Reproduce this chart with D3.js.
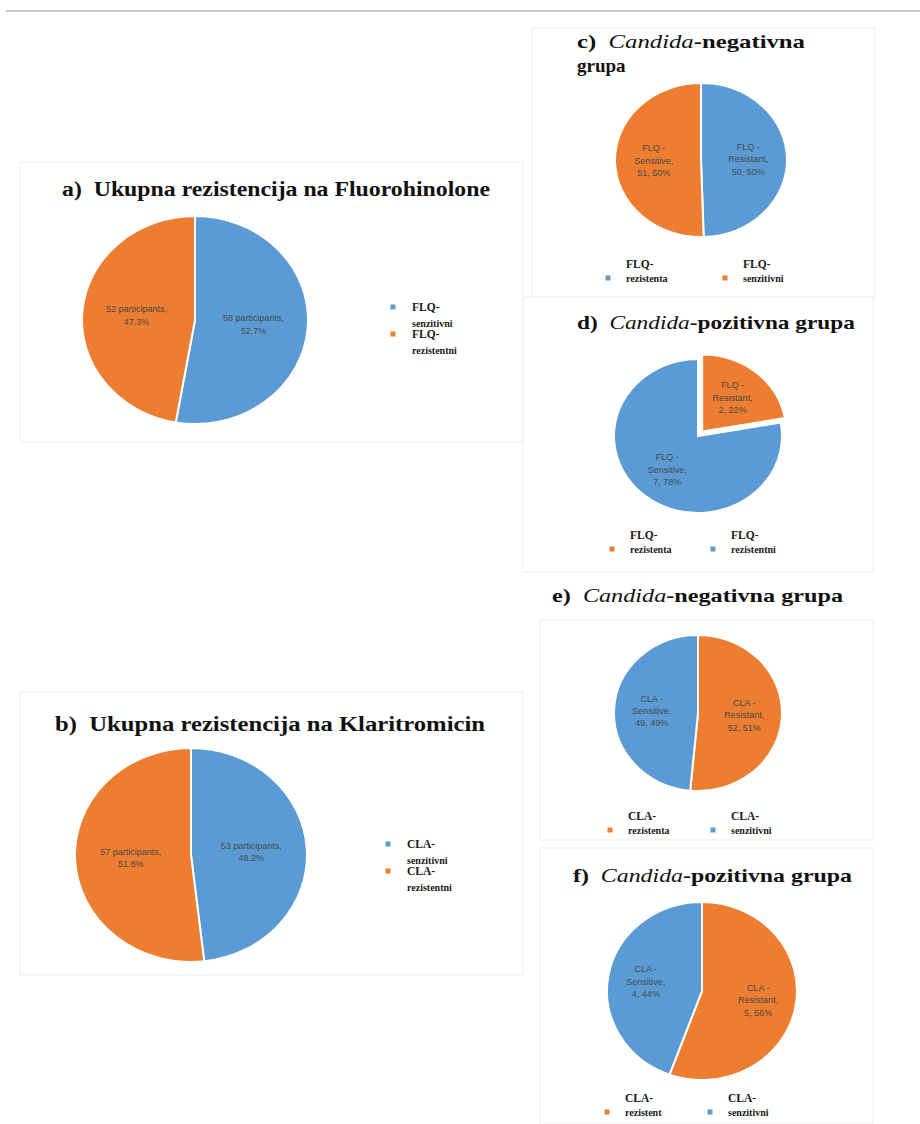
<!DOCTYPE html>
<html>
<head>
<meta charset="utf-8">
<script src="https://cdn.jsdelivr.net/npm/d3@7/dist/d3.min.js"></script>
<style>
  html, body { margin: 0; padding: 0; background: #ffffff; }
  svg { display: block; }
  text.title { white-space: pre; }
</style>
</head>
<body>
<svg id="chart" width="920" height="1124"></svg>
<script>
// ---- data ----
const totalFlqNames   = ["senzitivni", "rezistentni"];
const totalFlqValues  = [58, 52];
const totalClaNames   = ["senzitivni", "rezistentni"];
const totalClaValues  = [53, 57];

const flqNegNames  = ["FLQ - Resistant,", "FLQ - Sensitive,"];
const flqNegValues = [50, 51];
const flqPosNames  = ["FLQ - Resistant,", "FLQ - Sensitive,"];
const flqPosValues = [2, 7];
const claNegNames  = ["CLA - Resistant,", "CLA - Sensitive,"];
const claNegValues = [52, 49];
const claPosNames  = ["CLA - Resistant,", "CLA - Sensitive,"];
const claPosValues = [5, 4];

const legendA = [["FLQ-", "senzitivni"], ["FLQ-", "rezistentni"]];
const legendB = [["CLA-", "senzitivni"], ["CLA-", "rezistentni"]];
const legendC = [["FLQ-", "rezistenta"], ["FLQ-", "senzitivni"]];
const legendD = [["FLQ-", "rezistenta"], ["FLQ-", "rezistentni"]];
const legendE = [["CLA-", "rezistenta"], ["CLA-", "senzitivni"]];
const legendF = [["CLA-", "rezistent"], ["CLA-", "senzitivni"]];

const titleA = [["a)  Ukupna rezistencija na Fluorohinolone"]];
const titleB = [["b)  Ukupna rezistencija na Klaritromicin"]];
const titleC = [["c)  ", "Candida", "-negativna"], ["grupa"]];
const titleD = [["d)  ", "Candida", "-pozitivna grupa"]];
const titleE = [["e)  ", "Candida", "-negativna grupa"]];
const titleF = [["f)  ", "Candida", "-pozitivna grupa"]];

// ---- styling ----
const BLUE = "#5b9bd5";
const ORANGE = "#ed7d31";
const pctWhole = d3.format(".1%");
const pctInt = d3.format(".0%");

const svg = d3.select("#chart");

// thin page rule at the top
svg.append("line").attr("x1", 6).attr("x2", 920).attr("y1", 11).attr("y2", 11)
  .attr("stroke", "#c9c9c9").attr("stroke-width", 2);

// faint chart-area frames
const frames = [
  [20, 162, 523, 442],
  [20, 692, 523, 975],
  [532, 28, 875, 297],
  [523, 297, 873, 572],
  [540, 620, 873, 840],
  [540, 848, 873, 1124]
];
svg.selectAll("rect.frame").data(frames).join("rect")
  .attr("class", "frame")
  .attr("x", d => d[0]).attr("y", d => d[1])
  .attr("width", d => d[2] - d[0]).attr("height", d => d[3] - d[1])
  .attr("fill", "none").attr("stroke", "#ededed").attr("stroke-width", 1);

const panels = [
  { title: titleA, tx: 62, ty: 196, tw: 428, fs: 20,
    names: totalFlqNames, values: totalFlqValues, colors: [BLUE, ORANGE],
    cx: 195, cy: 320, rx: 113, ry: 104, labelR: 0.52, explode: [0, 0],
    label: (d, tot) => [d.data.value + " participants,", pctWhole(d.data.value / tot)],
    legend: legendA, legendColors: [BLUE, ORANGE], legendMode: "v", lx: 393, ly: 307 },
  { title: titleB, tx: 55, ty: 731, tw: 430, fs: 20,
    names: totalClaNames, values: totalClaValues, colors: [BLUE, ORANGE],
    cx: 191, cy: 855, rx: 116, ry: 107, labelR: 0.52, explode: [0, 0],
    label: (d, tot) => [d.data.value + " participants,", pctWhole(d.data.value / tot)],
    legend: legendB, legendColors: [BLUE, ORANGE], legendMode: "v", lx: 388, ly: 844 },
  { title: titleC, tx: 577, ty: 48, tw: 228, fs: 19,
    names: flqNegNames, values: flqNegValues, colors: [BLUE, ORANGE],
    cx: 701, cy: 160, rx: 86, ry: 77, labelR: 0.55, explode: [0, 0],
    label: (d, tot) => [d.data.name.split(" ")[0] + " -", d.data.name.split(" ")[2], d.data.value + ", " + pctInt(d.data.value / tot)],
    legend: legendC, legendColors: [BLUE, ORANGE], legendMode: "h", lx: [608, 725], ly: 278 },
  { title: titleD, tx: 577, ty: 329, tw: 278, fs: 19,
    names: flqPosNames, values: flqPosValues, colors: [ORANGE, BLUE],
    cx: 698, cy: 436, rx: 84, ry: 77, labelR: 0.57, explode: [6, 0],
    label: (d, tot) => [d.data.name.split(" ")[0] + " -", d.data.name.split(" ")[2], d.data.value + ", " + pctInt(d.data.value / tot)],
    legend: legendD, legendColors: [ORANGE, BLUE], legendMode: "h", lx: [612, 713], ly: 549 },
  { title: titleE, tx: 552, ty: 602, tw: 291, fs: 19,
    names: claNegNames, values: claNegValues, colors: [ORANGE, BLUE],
    cx: 698, cy: 713, rx: 84, ry: 78, labelR: 0.55, explode: [0, 0],
    label: (d, tot) => [d.data.name.split(" ")[0] + " -", d.data.name.split(" ")[2], d.data.value + ", " + pctInt(d.data.value / tot)],
    legend: legendE, legendColors: [ORANGE, BLUE], legendMode: "h", lx: [610, 713], ly: 830 },
  { title: titleF, tx: 573, ty: 882, tw: 279, fs: 19,
    names: claPosNames, values: claPosValues, colors: [ORANGE, BLUE],
    cx: 702, cy: 991, rx: 95, ry: 89, labelR: 0.6, explode: [0, 0],
    label: (d, tot) => [d.data.name.split(" ")[0] + " -", d.data.name.split(" ")[2], d.data.value + ", " + pctInt(d.data.value / tot)],
    legend: legendF, legendColors: [ORANGE, BLUE], legendMode: "h", lx: [607, 710], ly: 1112 }
];

const pie = d3.pie().sort(null).value(d => d.value);

panels.forEach(p => {
  // title
  p.title.forEach((line, li) => {
    const t = svg.append("text")
      .attr("class", "title")
      .attr("xml:space", "preserve")
      .attr("x", p.tx).attr("y", p.ty + li * 24)
      .attr("font-family", "'Liberation Serif', 'Times New Roman', serif")
      .attr("font-weight", "bold")
      .attr("font-size", p.fs)
      .attr("fill", "#111");
    if (li === 0) t.attr("textLength", p.tw).attr("lengthAdjust", "spacingAndGlyphs");
    line.forEach(part => {
      t.append("tspan").text(part)
        .attr("font-style", part === "Candida" ? "italic" : "normal")
        .attr("font-weight", part === "Candida" ? "normal" : "bold");
    });
  });

  // pie
  const rows = p.names.map((n, i) => ({ name: n, value: p.values[i], color: p.colors[i] }));
  const total = d3.sum(p.values);
  const arcs = pie(rows);
  const sx = p.rx / p.ry;
  const arc = d3.arc().innerRadius(0).outerRadius(p.ry);
  const labelArc = d3.arc().innerRadius(p.ry * p.labelR).outerRadius(p.ry * p.labelR);

  const g = svg.append("g").attr("transform", `translate(${p.cx},${p.cy}) scale(${sx},1)`);
  g.selectAll("path").data(arcs).join("path")
    .attr("transform", (d, i) => {
      const off = p.explode[i];
      if (!off) return null;
      const mid = (d.startAngle + d.endAngle) / 2;
      return `translate(${Math.sin(mid) * off},${-Math.cos(mid) * off})`;
    })
    .attr("d", arc)
    .attr("fill", d => d.data.color)
    .attr("stroke", "#ffffff")
    .attr("stroke-width", 2)
    .attr("vector-effect", "non-scaling-stroke");

  // slice labels
  const lg = svg.append("g").attr("transform", `translate(${p.cx},${p.cy})`);
  arcs.forEach((d, i) => {
    const c = labelArc.centroid(d);
    const off = p.explode[i];
    const mid = (d.startAngle + d.endAngle) / 2;
    const x = c[0] * sx + Math.sin(mid) * off;
    const y = c[1] - Math.cos(mid) * off;
    const lines = p.label(d, total);
    const lh = 12.5;
    const t = lg.append("text")
      .attr("x", x).attr("y", y - (lines.length - 1) * lh / 2 + 3)
      .attr("text-anchor", "middle")
      .attr("font-family", "'Liberation Sans', Arial, sans-serif")
      .attr("font-size", 9)
      .attr("fill", "#4a4a4a");
    lines.forEach((ln, k) => {
      t.append("tspan").attr("x", x).attr("dy", k === 0 ? 0 : lh).text(ln);
    });
  });

  // legend
  const legFont = "'Liberation Serif', 'Times New Roman', serif";
  p.legend.forEach((item, i) => {
    let mx, my, tx, y1, y2;
    if (p.legendMode === "v") {
      mx = p.lx; my = p.ly + i * 27;
      tx = p.lx + 19; y1 = my + 4; y2 = my + 20;
    } else {
      mx = p.lx[i]; my = p.ly;
      tx = p.lx[i] + 18; y1 = my - 10; y2 = my + 4;
    }
    svg.append("rect")
      .attr("x", mx - 2.5).attr("y", my - 2.5).attr("width", 5).attr("height", 5)
      .attr("fill", p.legendColors[i]);
    svg.append("text").attr("x", tx).attr("y", y1)
      .attr("font-family", legFont).attr("font-weight", "bold").attr("font-size", 11.5)
      .attr("fill", "#1a1a1a").text(item[0]);
    svg.append("text").attr("x", tx).attr("y", y2)
      .attr("font-family", legFont).attr("font-weight", "bold").attr("font-size", 10)
      .attr("fill", "#1a1a1a").text(item[1]);
  });
});
</script>
</body>
</html>
